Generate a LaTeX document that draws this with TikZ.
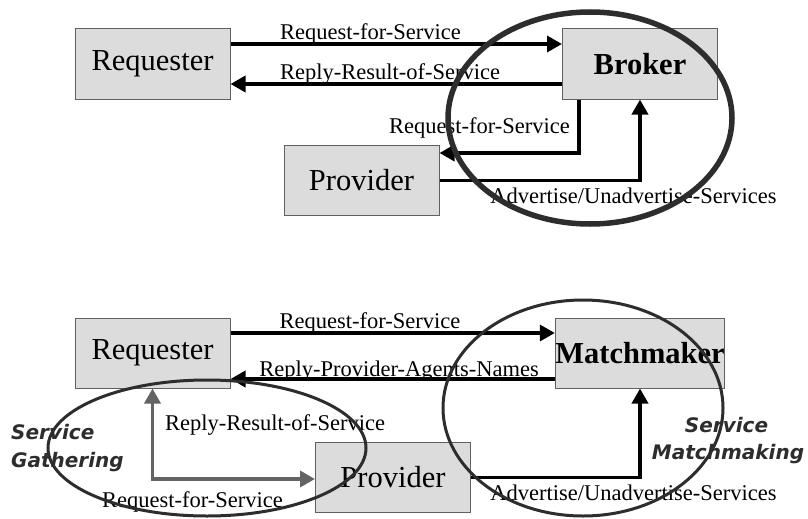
\documentclass[tikz,border=0pt]{standalone}
\usepackage{fontspec}
\setmainfont{Liberation Serif}
\newfontfamily\verd{DejaVu Sans}
\usetikzlibrary{arrows.meta,shapes.geometric}
\definecolor{boxfill}{RGB}{220,220,220}
\definecolor{boxline}{RGB}{96,96,96}
\definecolor{ringc}{RGB}{45,45,45}
\definecolor{grayarr}{RGB}{100,100,100}
\tikzset{
  agent/.style={draw=boxline, line width=1pt, fill=boxfill, minimum width=155pt, minimum height=70pt, inner sep=0pt, font=\fontsize{30.5}{34}\selectfont},
  lbl/.style={inner sep=0pt, anchor=base, font=\fontsize{22.5}{26}\selectfont},
  note/.style={inner sep=0pt, anchor=base, font=\verd\bfseries\itshape\fontsize{20}{24}\selectfont, text=ringc},
  arr/.style={line width=3.5pt, -{Triangle[length=15pt,width=16pt]}},
  garr/.style={line width=3.5pt, draw=grayarr, {Triangle[length=15pt,width=16pt]}-{Triangle[length=15pt,width=16pt]}},
  ring/.style={draw=ringc, ellipse, inner sep=0pt}
}
\begin{document}
\begin{tikzpicture}[x=1pt,y=-1pt]
\useasboundingbox (0,0) rectangle (808,519);
% ---------- top diagram ----------
\node[agent] (req) at (152.5,64) {Requester};
\node[agent, font=\fontsize{30.5}{34}\selectfont\bfseries] (brk) at (640,64) {Broker};
\node[agent] (prov) at (361.5,180.5) {Provider};
\draw[arr] ([yshift=20pt]req.east) -- ([yshift=20pt]brk.west);
\draw[arr] ([yshift=-20pt]brk.west) -- ([yshift=-20pt]req.east);
\draw[arr] ([xshift=-61pt]brk.south) |- ([yshift=27.5pt]prov.east);
\draw[arr] (prov.east) -| (brk.south);
\node[lbl] (t1) at (370.5,39.5) {Request-for-Service};
\node[lbl] (t2) at (390,79) {Reply-Result-of-Service};
\node[lbl] (t3) at (479.5,133) {Request-for-Service};
\node[lbl] (t4) at (633.5,203) {Advertise/Unadvertise-Services};
\node[ring, line width=5.5pt, minimum width=284pt, minimum height=212pt] (e1) at (590,118) {};
% ---------- bottom diagram ----------
\node[agent] (req2) at (152.5,353) {Requester};
\node[agent, font=\fontsize{30.5}{34}\selectfont\bfseries] (mm) at (640,353) {Matchmaker};
\node[agent] (prov2) at (393,477.5) {Provider};
\draw[arr] ([yshift=20pt]req2.east) -- ([yshift=20pt]mm.west);
\draw[arr] ([yshift=-26pt]mm.west) -- ([yshift=-26pt]req2.east);
\draw[garr] (req2.south) |- ([yshift=-1.5pt]prov2.west);
\draw[arr] (prov2.east) -| (mm.south);
\node[lbl] (b1) at (370,328) {Request-for-Service};
\node[lbl] (b2) at (399,376) {Reply-Provider-Agents-Names};
\node[lbl] (b3) at (275,430) {Reply-Result-of-Service};
\node[lbl] (b4) at (192.5,507) {Request-for-Service};
\node[lbl] (b5) at (633.5,500) {Advertise/Unadvertise-Services};
\node[note, anchor=base west] (g1) at (11,439) {Service};
\node[note, anchor=base west] (g2) at (11,467) {Gathering};
\node[note] (m1) at (726.5,432) {Service};
\node[note] (m2) at (728,459) {Matchmaking};
\node[ring, line width=3pt, minimum width=318pt, minimum height=136pt] (e2) at (207,448) {};
\node[ring, line width=3pt, minimum width=280pt, minimum height=216pt] (e3) at (583,408) {};
\end{tikzpicture}
\end{document}
